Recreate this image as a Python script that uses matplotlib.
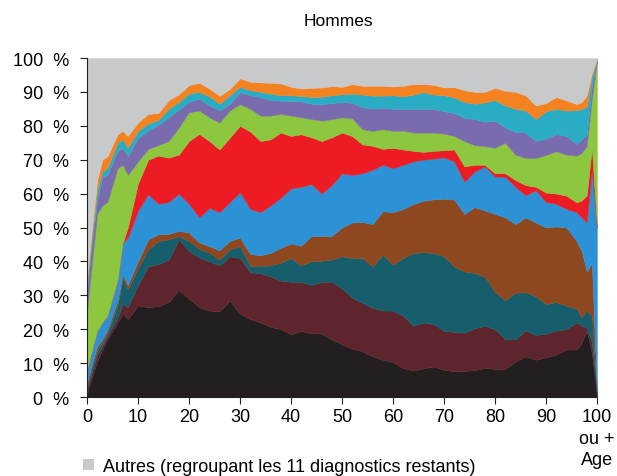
import matplotlib
matplotlib.use("Agg")
import matplotlib.pyplot as plt
from matplotlib.patches import Patch

plt.rcParams['font.family'] = ['Liberation Sans', 'DejaVu Sans']

# ages (x) and cumulative tops of each stacked band, in %
ages = [0, 1, 2, 3, 4, 6, 7, 8, 10, 12, 14, 16, 18, 20, 22, 24, 26, 28, 30, 32,
        34, 36, 38, 40, 42, 44, 46, 48, 50, 52, 54, 56, 58, 60, 62, 64, 66, 68,
        70, 72, 74, 76, 78, 80, 82, 84, 86, 88, 90, 92, 94, 96, 97, 98, 99, 100]

top_black = [1, 6, 10.5, 14, 17, 22, 24.5, 23, 27, 26.5, 26.8, 28, 31.5, 29, 26.5, 25.5, 25.3, 28.4, 24.5, 23,
             22, 20.7, 20, 18.5, 19.5, 18.8, 18.7, 17, 15.5, 14.3, 13.5, 12, 11, 10.3, 8.5, 7.8, 8.5, 9,
             8, 7.6, 7.7, 7.9, 8.6, 8.3, 8.3, 10.5, 12, 11, 11.7, 12.5, 14, 14, 16, 19.5, 13, 0.5]
top_maroon = [2.5, 7.5, 12.5, 15, 18, 23.5, 27.5, 26.5, 33, 38.5, 39.2, 40.5, 46.5, 43, 41.2, 40, 38.8, 41.5, 41, 36.8,
              36.5, 35.6, 34.3, 34, 34, 33, 34, 34, 32, 29.3, 27.8, 26.3, 25.5, 25.5, 24, 21, 22, 21.5,
              19.5, 19.2, 19, 20.3, 21, 20, 17, 17, 19.6, 18.3, 18.6, 19.6, 20, 22, 21, 20.5, 16, 0.6]
top_teal = [3.3, 9, 13.8, 16, 18.8, 27, 35, 31.7, 38, 43.5, 46, 46.5, 47.4, 46, 43.7, 42.5, 40.5, 43.5, 44.5, 38.7,
            38.7, 38.8, 39.6, 41, 38.8, 40, 40.2, 40.5, 41.5, 41, 41, 38.5, 42, 39, 41, 42.5, 42.7, 42.5,
            41.5, 38.5, 37, 36.6, 35.5, 31, 28.5, 30.8, 30.9, 29.7, 27.4, 28, 27, 26, 23.5, 25.5, 24, 0.7]
top_brown = [4.3, 10, 15, 17, 19.8, 28.5, 36, 33, 40, 46.5, 48, 48.1, 49, 48.5, 45.6, 44.5, 43.3, 46, 47, 42.2,
             41.8, 42.5, 44, 45.3, 44.6, 47.5, 47.5, 47.5, 50, 51.5, 51.6, 51, 54.8, 54.5, 55.5, 56.9, 57.9, 58.3,
             58.5, 58.2, 54, 56, 55, 54, 53, 51, 53, 51.5, 50, 50.3, 50, 46, 43, 37, 39.5, 1.5]
top_blue = [8, 14, 19.5, 22, 24, 34.5, 45.5, 47, 55, 59.8, 57, 57.5, 60, 57, 53, 55.8, 54.5, 57.5, 60.4, 55.5,
            54.5, 56.5, 58.8, 61.5, 62, 62.8, 60, 62.5, 66, 65.5, 66, 67, 68.5, 67.5, 68.5, 69.5, 70, 70.3,
            70.7, 69.5, 63.5, 66.5, 68, 65, 65, 62, 59.5, 61, 57.5, 57, 55.5, 54.5, 53, 51.5, 67, 50]
top_red = [8, 14, 19.5, 22, 24, 34.5, 45.5, 50, 63, 70, 71.2, 70.6, 71.5, 75.5, 77.6, 75.5, 73, 76.5, 80, 78.3,
           75.5, 76, 78, 77, 77.5, 76.6, 75.5, 76.6, 78, 77, 74.5, 74.1, 73.2, 73.5, 73, 72.6, 72.3, 72.6,
           72.8, 73, 68, 68.5, 68.5, 66, 66, 64, 62.5, 62, 60.3, 60, 59.4, 57.4, 58, 59.5, 73.5, 50.5]
top_green = [25, 40, 54, 56.5, 57.5, 67.5, 68.5, 65.5, 69.5, 73.2, 74.3, 75.5, 79.5, 84, 84.5, 82.5, 81, 84.5, 86.4, 85,
             83, 83, 83.5, 83, 82.5, 82, 81.5, 82, 82.5, 82.2, 79, 78.5, 79, 78.5, 78.6, 78, 78, 78,
             77.7, 77, 75.5, 74.3, 74, 73.5, 75, 71.5, 70.5, 70.5, 71.4, 72.5, 71.5, 71.2, 72, 74, 88, 99]
top_purple = [31, 46, 58, 65, 65.5, 72.7, 73.5, 71, 76.5, 78.6, 80.3, 82.5, 84.8, 87, 88, 86, 84.5, 86.5, 89.9, 89,
              88.5, 87.6, 87.4, 87.3, 87.2, 86.5, 86.4, 86.7, 87, 86.8, 85.5, 85.1, 85.3, 85, 85, 85, 85, 85,
              84.3, 83.8, 82.3, 82, 81.2, 81.5, 79.5, 78.2, 78, 75.5, 76.3, 77.5, 77, 74.6, 76, 77.5, 91.8, 99.3]
top_cyan = [33, 48, 61, 66.5, 67.5, 75, 76, 73.5, 78.5, 80.7, 81.7, 85, 87, 89.5, 90, 88.7, 86.5, 89, 91.5, 90.5,
            90, 89.5, 89, 89, 88.8, 88.5, 88.6, 89, 89.3, 89.5, 89.2, 88.9, 88.9, 89, 88.7, 89.2, 89.9, 89.2,
            89, 88.4, 87, 86.5, 86.9, 87.6, 86, 85, 84.5, 82, 84.3, 85, 84.5, 84.6, 85, 85.5, 94.5, 99.6]
top_orange = [35, 50, 64, 70, 71, 77.5, 78.5, 77, 81, 83.5, 83.8, 87.5, 89.3, 92, 92.7, 91, 88.8, 90.9, 94, 93,
              92.8, 92.7, 92.5, 91.5, 91, 91.2, 91.3, 91.7, 91.5, 92.3, 91.8, 91.8, 91.8, 91.6, 91.8, 92.3, 92.3, 92.1,
              91.3, 91.4, 90.5, 90, 90, 91.2, 90.3, 90, 89, 86, 86.7, 88.5, 87.5, 86.4, 87, 89, 95.5, 99.8]
top_all = [100] * len(ages)

bands = [
    (top_black, '#231F20'),
    (top_maroon, '#5E262C'),
    (top_teal, '#165E6B'),
    (top_brown, '#8E4820'),
    (top_blue, '#2C92D5'),
    (top_red, '#ED1C24'),
    (top_green, '#8DC63F'),
    (top_purple, '#7A6AAE'),
    (top_cyan, '#2AADC4'),
    (top_orange, '#F58220'),
    (top_all, '#C8C9CB'),
]

fig = plt.figure(figsize=(6.17, 4.77), dpi=100)
ax = fig.add_axes([0.141, 0.1656, 0.8265, 0.7107])

lower = [0] * len(ages)
for upper, col in bands:
    ax.fill_between(ages, lower, upper, color=col, lw=0.3, edgecolor=col)
    lower = upper

ax.set_xlim(0, 100)
ax.set_ylim(0, 100)

ax.set_yticks(range(0, 101, 10))
ax.set_yticklabels([f'{v}  %' for v in range(0, 101, 10)], fontsize=13)
ax.set_xticks(range(0, 101, 10))
xlabels = [str(v) for v in range(0, 100, 10)] + ['100\nou +\nAge']
ax.set_xticklabels(xlabels, fontsize=13, va='top')
ax.get_xticklabels()[-1].set_linespacing(1.35)

ax.tick_params(axis='both', direction='out', length=5, width=0.8, color='#222222')
ax.tick_params(axis='y', pad=8)
ax.tick_params(axis='x', pad=3)
for s in ['top', 'right']:
    ax.spines[s].set_visible(False)
ax.spines['left'].set_color('#222222')
ax.spines['bottom'].set_color('#222222')

fig.text(0.548, 0.955, 'Hommes', ha='center', va='center', fontsize=12.5)

handles = [Patch(facecolor='#C8C9CB', edgecolor='none')]
fig.legend(handles, ['Autres (regroupant les 11 diagnostics restants)'],
           loc='center left', bbox_to_anchor=(0.135, 0.02), frameon=False,
           fontsize=13, handlelength=0.6, handleheight=0.6, handletextpad=0.5,
           borderaxespad=0, borderpad=0)

fig.savefig('out.png', dpi=100)
